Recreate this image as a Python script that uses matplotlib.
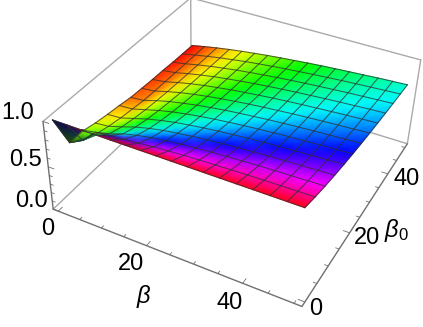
import numpy as np
import matplotlib
matplotlib.use("Agg")
import matplotlib.pyplot as plt

plt.rcParams['font.family'] = ['Liberation Sans', 'DejaVu Sans']

# mesh nodes
beta = [0, 3.125, 6.25, 9.375, 12.5, 15.625, 18.75, 21.875, 25, 28.125, 31.25, 34.375, 37.5, 40.625, 43.75, 46.875, 50]
beta0 = [0, 4.167, 8.333, 12.5, 16.667, 20.833, 25, 29.167, 33.333, 37.5, 41.667, 45.833, 50]

# surface height, one row per beta0 value
height = np.array([
    [1.00, 1.00, 1.00, 1.00, 1.00, 1.00, 1.00, 1.00, 1.00, 1.00, 1.00, 1.00, 1.00, 1.00, 1.00, 1.00, 1.00],
    [.620, .700, .845, .860, .875, .888, .904, .915, .924, .932, .937, .943, .947, .951, .954, .957, .959],
    [.620, .640, .697, .750, .788, .816, .837, .854, .868, .879, .888, .897, .904, .910, .915, .920, .924],
    [.585, .600, .647, .697, .735, .765, .788, .807, .823, .837, .848, .858, .868, .875, .882, .888, .894],
    [.560, .570, .615, .661, .697, .727, .750, .771, .788, .803, .816, .827, .837, .846, .854, .861, .868],
    [.540, .550, .592, .634, .669, .697, .721, .741, .759, .774, .788, .800, .811, .820, .829, .837, .844],
    [.515, .529, .576, .615, .646, .674, .697, .718, .735, .750, .765, .777, .788, .798, .807, .816, .824],
    [.505, .521, .563, .599, .629, .655, .677, .697, .715, .730, .744, .757, .768, .778, .788, .796, .805],
    [.495, .516, .554, .587, .615, .639, .661, .680, .697, .713, .727, .739, .750, .761, .771, .780, .788],
    [.490, .511, .546, .576, .603, .626, .646, .665, .682, .697, .711, .723, .735, .746, .755, .765, .773],
    [.480, .507, .539, .568, .592, .615, .634, .652, .669, .684, .697, .710, .721, .732, .741, .750, .759],
    [.475, .504, .534, .560, .583, .605, .624, .641, .657, .671, .685, .697, .709, .719, .729, .738, .747],
    [.470, .501, .529, .554, .576, .596, .615, .631, .646, .661, .674, .686, .697, .707, .718, .727, .735],
])

beta_ticks = [0, 5, 10, 15, 20, 25, 30, 35, 40, 45, 50]
beta0_ticks = [0, 5, 10, 15, 20, 25, 30, 35, 40, 45, 50]
z_ticks = [0, .1, .2, .3, .4, .5, .6, .7, .8, .9, 1.0]

# box corners: (beta, beta0, z) and where they land on the picture
lo, hi = -1.2, 51.5
box_points = np.array([[lo, lo, 0], [hi, lo, 0], [hi, hi, 0], [lo, hi, 0],
                       [lo, lo, 1], [hi, hi, 1], [lo, hi, 1]], dtype=float)
box_pixels = np.array([[55, 210], [302, 306], [408, 145], [189, 76],
                       [41, 121], [420, 59], [193, -1]], dtype=float)


def fit_camera(points, pixels):
    rows, rhs = [], []
    for (x, y, z), (u, v) in zip(points, pixels):
        rows.append([x, y, z, 1, 0, 0, 0, 0, -u*x, -u*y, -u*z])
        rows.append([0, 0, 0, 0, x, y, z, 1, -v*x, -v*y, -v*z])
        rhs += [u, v]
    p = np.linalg.lstsq(np.array(rows), np.array(rhs), rcond=None)[0]
    return np.append(p, 1).reshape(3, 4)


camera = fit_camera(box_points, box_pixels)


def project(x, y, z):
    x, y, z = np.broadcast_arrays(np.asarray(x, float), np.asarray(y, float), np.asarray(z, float))
    pts = camera @ np.stack([x.ravel(), y.ravel(), z.ravel(), np.ones(x.size)])
    return (pts[0]/pts[2]).reshape(x.shape), (pts[1]/pts[2]).reshape(x.shape)


def edge(a, b, color, lw=1.0):
    u, v = project(*np.array([a, b], dtype=float).T)
    ax.plot(u, v, color=color, lw=lw, solid_capstyle='round', zorder=1)


fig = plt.figure(figsize=(4.23, 3.27), dpi=100)
ax = fig.add_axes([0, 0, 1, 1])
ax.set_xlim(0, 423)
ax.set_ylim(327, 0)
ax.axis('off')

# back of the box
grey = '#aaaaaa'
edge((lo, lo, 0), (lo, hi, 0), grey)
edge((lo, hi, 0), (hi, hi, 0), grey)
edge((lo, hi, 0), (lo, hi, 1), grey)
edge((lo, lo, 1), (lo, hi, 1), grey)
edge((lo, hi, 1), (hi, hi, 1), grey)
edge((hi, hi, 1), (hi, hi, 0), grey)

# axis edges and ticks
dark = '#707070'
edge((lo, lo, 0), (hi, lo, 0), dark)
edge((hi, lo, 0), (hi, hi, 0), dark)
edge((lo, lo, 0), (lo, lo, 1), dark)
for t in beta_ticks:
    edge((t, lo, 0), (t, lo + (1.3 if t % 20 == 0 else 0.7), 0), dark, 0.6)
for t in beta0_ticks:
    edge((hi, t, 0), (hi - (1.3 if t % 20 == 0 else 0.7), t, 0), dark, 0.6)
for t in z_ticks:
    edge((lo, lo, t), (lo + (1.3 if round(t*10) % 5 == 0 else 0.7), lo, t), dark, 0.6)

# surface colour: hue runs with height, steep parts go dark
B, B0 = np.meshgrid(beta, beta0)
hue = ((height - height.min())/(height.max() - height.min()))**1.08
hue[0, 0] = 0.66
hue[0, 1] = 0.75
hue[1, 1] = 0.50
dz_row, dz_col = np.gradient(height)
shade = 1 - np.clip((np.hypot(dz_row, dz_col) - 0.08)*4.5, 0, 0.8)
shade[:2, :2] = 0.3
rgb = plt.get_cmap('hsv')(hue)[:, :, :3]*shade[:, :, None]

U, V = project(B, B0, height)
ax.pcolormesh(U, V, rgb, shading='gouraud', zorder=2)

# mesh lines
for k in range(len(beta)):
    ax.plot(U[:, k], V[:, k], color='#303030', alpha=0.75, lw=0.75, zorder=3)
for k in range(len(beta0)):
    ax.plot(U[k, :], V[k, :], color='#303030', alpha=0.75, lw=0.75, zorder=3)

# text
size = 17
for s, x, y in [('1.0', 18, 113), ('0.5', 25, 160), ('0.0', 31, 201),
                ('0', 48, 229), ('20', 131, 264), ('40', 230, 303),
                ('0', 316, 309), ('20', 367, 238), ('40', 407, 179)]:
    ax.text(x, y, s, fontsize=size, ha='center', va='center', color='#000000')
ax.text(143, 297, 'β', fontsize=size, style='italic', ha='center', va='center', color='#000000')
ax.text(391, 230, 'β', fontsize=size, style='italic', ha='center', va='center', color='#000000')
ax.text(403, 235, '0', fontsize=12, ha='center', va='center', color='#000000')

fig.savefig('out.png', dpi=100)
